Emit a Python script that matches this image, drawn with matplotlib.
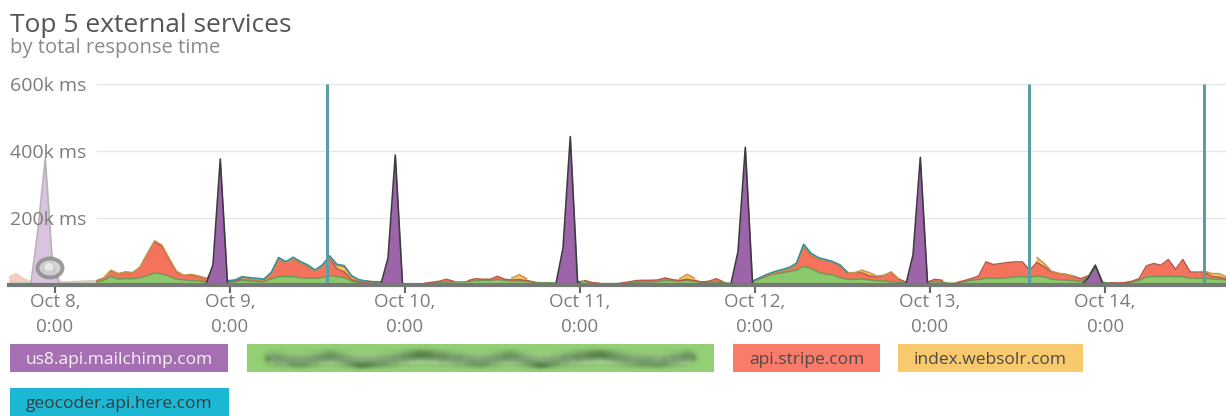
import numpy as np
import pandas as pd
import matplotlib
matplotlib.use('Agg')
import matplotlib.pyplot as plt
import matplotlib.dates as mdates
from matplotlib.patches import Rectangle, Ellipse
from matplotlib.lines import Line2D

plt.rcParams['font.family'] = ['Open Sans', 'DejaVu Sans']

# hourly totals per service, in thousands of ms
start = '2015-10-07 17:40'
mailchimp = [0, 0, 0, 0, 165, 379, 60, 0, 0, 0, 0, 0, 0, 0, 0, 0, 0, 0, 0, 0,
             0, 0, 0, 0, 0, 0, 0, 0, 60, 376, 0, 0, 0, 0, 0, 0, 0, 0, 0, 0,
             0, 0, 0, 0, 0, 0, 0, 0, 0, 0, 0, 0, 80, 388, 0, 0, 0, 0, 0, 0,
             0, 0, 0, 0, 0, 0, 0, 0, 0, 0, 0, 0, 0, 0, 0, 0, 110, 443, 8, 0,
             0, 0, 0, 0, 0, 0, 0, 0, 0, 0, 0, 0, 0, 0, 0, 0, 0, 0, 0, 0,
             100, 411, 0, 0, 0, 0, 0, 0, 0, 0, 0, 0, 0, 0, 0, 0, 0, 0, 0, 0,
             0, 0, 0, 0, 90, 381, 0, 0, 0, 0, 0, 0, 0, 0, 0, 0, 0, 0, 0, 0,
             0, 0, 0, 0, 0, 0, 0, 0, 20, 58, 5, 0, 0, 0, 0, 0, 0, 0, 0, 0,
             0, 0, 0, 0, 0, 0, 0, 0]
masked = [8, 10, 8, 6, 0, 0, 3, 6, 7, 8, 8, 9, 9, 14, 26, 18, 19, 19, 22, 28,
          36, 33, 26, 18, 15, 13, 12, 10, 0, 0, 9, 10, 14, 12, 11, 10, 18, 25, 25, 25,
          22, 20, 20, 22, 28, 25, 22, 12, 8, 7, 6, 6, 0, 0, 4, 3, 3, 4, 6, 8,
          9, 9, 9, 10, 13, 14, 14, 16, 14, 12, 12, 12, 8, 7, 7, 6, 0, 0, 2, 12,
          6, 4, 4, 4, 5, 7, 8, 9, 9, 10, 14, 12, 12, 14, 12, 8, 8, 9, 7, 5,
          0, 0, 8, 18, 27, 33, 36, 40, 44, 55, 50, 38, 33, 30, 22, 17, 17, 18, 15, 12,
          12, 10, 8, 6, 0, 0, 8, 10, 8, 5, 6, 10, 14, 16, 20, 20, 20, 22, 24, 25,
          22, 27, 24, 18, 15, 15, 13, 10, 4, 2, 3, 6, 5, 6, 9, 14, 24, 25, 25, 26,
          25, 25, 20, 20, 20, 18, 17, 15]
stripe = [15, 23, 10, 3, 0, 0, 3, 3, 2, 2, 3, 3, 3, 6, 17, 15, 19, 17, 30, 64,
          93, 82, 50, 21, 13, 17, 13, 10, 0, 0, 1, 1, 5, 5, 4, 3, 15, 52, 40, 53,
          43, 35, 20, 33, 52, 23, 17, 4, 2, 1, 1, 1, 0, 0, 0, 0, 0, 1, 2, 3,
          8, 2, 0, 3, 6, 3, 3, 10, 3, 3, 4, 1, 1, 0, 0, 0, 0, 0, 0, 1,
          1, 1, 0, 0, 1, 2, 5, 5, 5, 5, 7, 4, 1, 3, 1, 1, 3, 10, 2, 0,
          0, 0, 0, 1, 1, 2, 5, 7, 16, 59, 38, 40, 40, 37, 35, 19, 19, 18, 12, 11,
          16, 28, 10, 3, 0, 0, 1, 7, 6, 0, 1, 3, 5, 11, 49, 41, 44, 45, 45, 44,
          22, 40, 30, 21, 19, 16, 13, 9, 3, 0, 0, 1, 1, 1, 2, 5, 33, 39, 34, 50,
          22, 51, 19, 18, 18, 7, 6, 3]
websolr = [1, 1, 1, 1, 0, 0, 0, 0, 0, 0, 0, 0, 1, 1, 1, 1, 1, 1, 2, 2,
           3, 4, 3, 2, 1, 2, 2, 1, 0, 0, 0, 0, 1, 1, 1, 1, 1, 1, 1, 1,
           1, 1, 1, 1, 3, 10, 15, 8, 4, 3, 2, 2, 0, 0, 0, 0, 0, 0, 0, 0,
           0, 0, 0, 0, 0, 0, 0, 0, 0, 6, 15, 6, 0, 0, 0, 0, 0, 0, 0, 0,
           0, 0, 0, 0, 0, 0, 0, 0, 0, 0, 0, 0, 6, 15, 8, 0, 0, 0, 0, 0,
           0, 0, 3, 1, 1, 1, 1, 1, 1, 2, 2, 1, 1, 1, 1, 1, 1, 8, 10, 4,
           1, 1, 1, 0, 0, 0, 0, 0, 0, 0, 0, 0, 0, 0, 0, 0, 0, 0, 0, 0,
           0, 15, 10, 2, 1, 1, 1, 0, 0, 0, 0, 0, 0, 0, 0, 0, 0, 0, 0, 0,
           0, 0, 0, 1, 3, 9, 11, 6]
geocoder = [0, 0, 0, 0, 0, 0, 0, 0, 0, 0, 0, 0, 0, 0, 0, 0, 0, 0, 0, 0,
            0, 0, 0, 0, 0, 0, 0, 0, 0, 0, 3, 4, 5, 4, 4, 4, 4, 4, 4, 4,
            4, 4, 4, 4, 4, 4, 4, 4, 2, 1, 1, 1, 0, 0, 0, 0, 0, 0, 0, 0,
            0, 0, 0, 0, 0, 0, 0, 0, 0, 0, 0, 0, 0, 0, 0, 0, 0, 0, 0, 0,
            0, 0, 0, 0, 0, 0, 0, 0, 0, 0, 0, 0, 0, 0, 0, 0, 0, 0, 0, 0,
            0, 0, 1, 2, 3, 4, 4, 4, 4, 6, 5, 3, 2, 2, 2, 1, 0, 0, 0, 0,
            0, 0, 0, 0, 0, 0, 0, 0, 0, 0, 0, 0, 0, 0, 0, 0, 0, 0, 0, 0,
            0, 0, 0, 0, 0, 0, 0, 0, 0, 0, 0, 0, 0, 0, 0, 0, 0, 0, 0, 0,
            0, 0, 0, 0, 0, 0, 0, 0]

labels = ['us8.api.mailchimp.com', None, 'api.stripe.com',
          'index.websolr.com', 'geocoder.api.here.com']
fill_colors = ['#9d64a9', '#8cc86c', '#f5735c', '#f6c462', '#1eb5cf']
edge_colors = ['#3f3a42', '#6c9a55', '#b9594a', '#c7964a', '#2f8e9c']
box_colors = ['#a470b2', '#93cf74', '#f97c6a', '#f9c96e', '#1cb8d3']
box_text = ['#f7f1f8', '#62905a', '#4a4a4a', '#4a4a4a', '#3a3a3a']

deploys = ['2015-10-09 13:20', '2015-10-13 13:35', '2015-10-14 13:35']
fade_until = '2015-10-08 05:40'
yticks = [200, 400, 600]

times = pd.date_range(start, periods=len(mailchimp), freq='h')
layers = np.array([mailchimp, masked, stripe, websolr, geocoder], dtype=float)
tops = np.cumsum(layers, axis=0)
bottoms = np.vstack([np.zeros(len(times)), tops[:-1]])


def blur(sigma):
    def filt(im, dpi):
        p = int(3 * sigma)
        im = np.pad(im, ((p, p), (p, p), (0, 0)))
        k = np.exp(-0.5 * (np.arange(-p, p + 1) / sigma) ** 2)
        k /= k.sum()
        for axis in (0, 1):
            out = np.zeros_like(im)
            for j, w in enumerate(k):
                out += w * np.roll(im, j - p, axis=axis)
            im = out
        return im, -p, -p
    return filt


W, H = 1226, 416
fig = plt.figure(figsize=(W / 100, H / 100), dpi=100)
ax = fig.add_axes([8.8 / W, (H - 285) / H, 1217.8 / W, 201 / H])
ax.set_xlim(times[0], times[-1])
ax.set_ylim(0, 600)
for s in ax.spines.values():
    s.set_visible(False)

for v in yticks:
    ax.axhline(v, xmin=0.0725, color='#e6e6e6', lw=1, zorder=0)
    ax.text(0.001, v, f'{v}k ms', transform=ax.get_yaxis_transform(),
            ha='left', va='center_baseline', fontsize=14, color='#7c7c7c', zorder=6)
ax.set_yticks([])

for n in range(len(layers)):
    ax.fill_between(times, bottoms[n], tops[n], color=fill_colors[n], lw=0, zorder=2)
    vals = layers[n]
    if n == 0:
        keep = np.convolve(vals > 0, [1, 1, 1], 'same') > 0
    else:
        keep = vals > 0
    edge = np.where(keep, tops[n], np.nan)
    ax.plot(times, edge, color=edge_colors[n], lw=1.2 if n == 0 else 1.1,
            zorder=3.5 if n == 0 else 3)

# the part before the selected window is washed out
ax.add_patch(Rectangle((mdates.date2num(times[0]), 0),
                       mdates.date2num(pd.Timestamp(fade_until)) - mdates.date2num(times[0]),
                       600, facecolor='white', alpha=0.62, lw=0, zorder=4))

ax.vlines(pd.to_datetime(deploys), 0, 600, color='#5b9da5', lw=2.2, zorder=5)
ax.axhline(0, color='#767a76', lw=3, zorder=6, clip_on=False)

ax.xaxis.set_major_locator(mdates.DayLocator())
ax.xaxis.set_major_formatter(plt.FuncFormatter(
    lambda x, pos: '{0:%b} {0.day},\n{0.hour}:{0:%M}'.format(mdates.num2date(x))))
ax.tick_params(axis='x', length=6, width=1.5, color='#666666', pad=0,
               labelsize=13.5, labelcolor='#7c7c7c')
for t in ax.get_xticklabels():
    t.set_linespacing(1.5)

# hover marker
fig.add_artist(Ellipse((50 / W, 1 - 268 / H), 25 / W, 19 / H, transform=fig.transFigure,
                       facecolor='#cdcdcd', edgecolor='#8c8c8c', lw=2.8, alpha=0.85))
fig.add_artist(Ellipse((49 / W, 1 - 267 / H), 9 / W, 8 / H, transform=fig.transFigure,
                       facecolor='#e8e8e8', lw=0))

fig.text(10 / W, 1 - 32 / H, 'Top 5 external services', fontsize=19,
         color='#555555', va='baseline')
fig.text(10 / W, 1 - 53 / H, 'by total response time', fontsize=14.5,
         color='#8a8a8a', va='baseline')

# legend chips; the second one's name is scrubbed out
boxes = [(10, 344, 218), (247, 344, 467), (733, 344, 147), (898, 344, 185), (10, 388, 219)]
wobble = [0, 2, -1, 3, 1, -2, 0, 2, -1, 3, 0, -2, 1, 2, -1]
for (x0, y0, w), lab, fc, tc in zip(boxes, labels, box_colors, box_text):
    fig.add_artist(Rectangle((x0 / W, 1 - (y0 + 28) / H), w / W, 28 / H,
                             transform=fig.transFigure, facecolor=fc, lw=0))
    if lab is None:
        xs = np.linspace(x0 + 24, x0 + w - 24, len(wobble))
        for dy, lw in [(0, 7), (2, 4)]:
            smudge = Line2D(xs / W, [1 - (y0 + 14 + dy + o) / H for o in wobble],
                            transform=fig.transFigure, color=tc, lw=lw,
                            solid_capstyle='round', solid_joinstyle='round', alpha=0.75)
            smudge.set_agg_filter(blur(2.5))
            fig.add_artist(smudge)
    else:
        fig.text((x0 + w / 2) / W, 1 - (y0 + 14) / H, lab, fontsize=12.5, color=tc,
                 ha='center', va='center_baseline')

fig.savefig('out.png', dpi=100)
